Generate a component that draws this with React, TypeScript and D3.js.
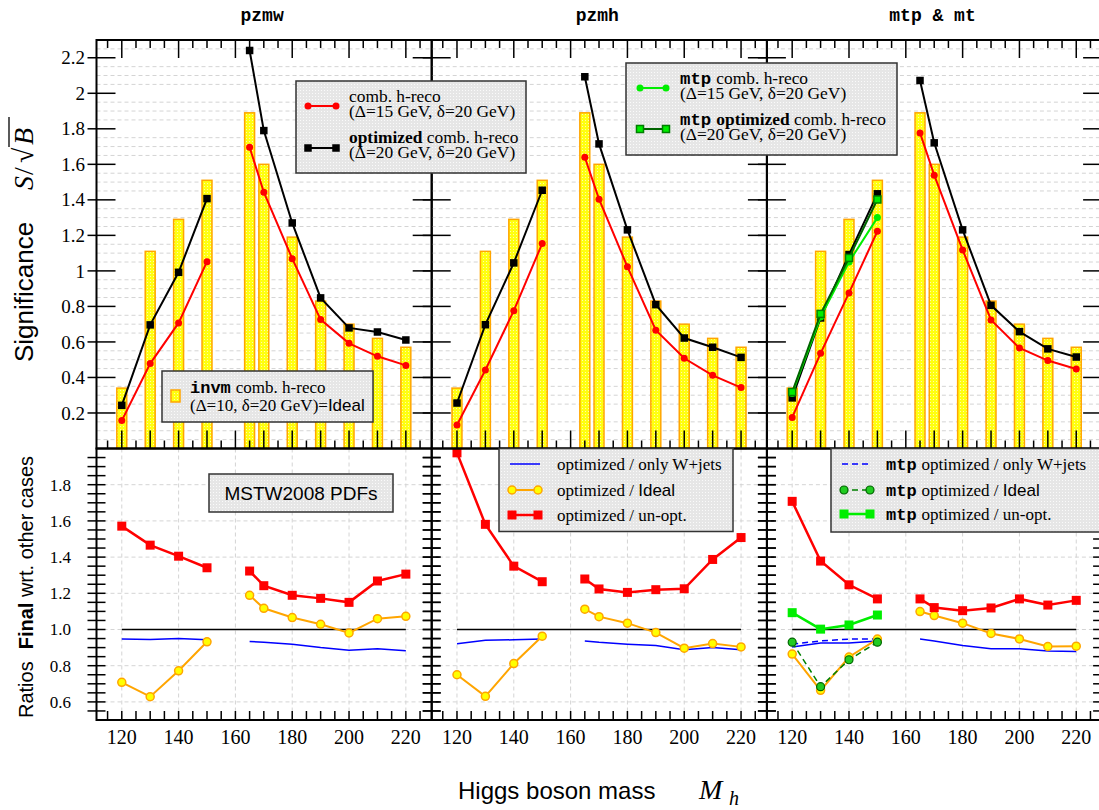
import React from 'react';
import * as d3 from 'd3';

// ---------------- DATA ----------------
const masses = [120, 130, 140, 150, 165, 170, 180, 190, 200, 210, 220];
const massesLow = [120, 130, 140, 150];

// invm comb. h-reco (Ideal) -- bars, same in each panel
const invmIdeal = [0.34, 1.11, 1.29, 1.51, 1.89, 1.6, 1.19, 0.83, 0.7, 0.62, 0.57];

// significance, top panels
const pzmwComb = [0.157, 0.478, 0.707, 1.052, 1.696, 1.443, 1.069, 0.726, 0.592, 0.519, 0.468];
const pzmwOpt = [0.243, 0.696, 0.992, 1.407, 2.241, 1.79, 1.27, 0.848, 0.679, 0.656, 0.611];
const pzmhComb = [0.132, 0.442, 0.776, 1.154, 1.64, 1.404, 1.023, 0.666, 0.508, 0.412, 0.343];
const pzmhOpt = [0.256, 0.697, 1.045, 1.454, 2.093, 1.715, 1.231, 0.81, 0.622, 0.57, 0.513];
const mtComb = [0.175, 0.536, 0.876, 1.223, 1.777, 1.539, 1.118, 0.724, 0.566, 0.495, 0.448];
const mtOpt = [0.285, 0.735, 1.092, 1.434, 2.072, 1.721, 1.231, 0.806, 0.658, 0.561, 0.515];
const mtpComb = [0.31, 0.74, 1.05, 1.3];
const mtpOpt = [0.318, 0.758, 1.073, 1.402];

// ratios, bottom panels
const pzmwRatioUnopt = [1.571, 1.466, 1.405, 1.341, 1.323, 1.242, 1.189, 1.172, 1.15, 1.268, 1.306];
const pzmwRatioIdeal = [0.708, 0.629, 0.772, 0.932, 1.189, 1.117, 1.066, 1.029, 0.981, 1.06, 1.073];
const pzmwRatioWjets = [0.947, 0.945, 0.95, 0.943, 0.934, 0.93, 0.919, 0.9, 0.886, 0.893, 0.882];
const pzmhRatioUnopt = [1.976, 1.581, 1.35, 1.264, 1.279, 1.224, 1.205, 1.22, 1.225, 1.387, 1.508];
const pzmhRatioIdeal = [0.75, 0.631, 0.812, 0.963, 1.112, 1.071, 1.035, 0.983, 0.897, 0.922, 0.904];
const pzmhRatioWjets = [0.921, 0.941, 0.943, 0.947, 0.936, 0.929, 0.919, 0.911, 0.888, 0.9, 0.888];
const mtRatioUnopt = [1.708, 1.378, 1.247, 1.169, 1.169, 1.121, 1.104, 1.119, 1.169, 1.135, 1.161];
const mtRatioIdeal = [0.864, 0.664, 0.848, 0.947, 1.099, 1.077, 1.035, 0.978, 0.948, 0.906, 0.908];
const mtRatioWjets = [0.903, 0.926, 0.926, 0.937, 0.947, 0.937, 0.911, 0.893, 0.893, 0.881, 0.878];
const mtpRatioUnopt = [1.093, 1.002, 1.025, 1.08];
const mtpRatioIdeal = [0.93, 0.684, 0.833, 0.93];
const mtpRatioWjets = [0.919, 0.937, 0.947, 0.947];

const panelTitles = ['pzmw', 'pzmh', 'mtp & mt'];
const xTickLabels = [120, 140, 160, 180, 200, 220];
const topYTicks = [0.2, 0.4, 0.6, 0.8, 1, 1.2, 1.4, 1.6, 1.8, 2, 2.2];
const botYTicks = [0.6, 0.8, 1.0, 1.2, 1.4, 1.6, 1.8];

// ---------------- LAYOUT ----------------
const W = 1099;
const H = 810;
const panelX0 = [96.5, 431.7, 766.9];
const panelW = 335.2;
const topY0 = 40;
const midY = 448.5;
const botY1 = 720;

const SERIF = '"Liberation Serif", "Times New Roman", serif';
const SANS = '"Liberation Sans", Arial, Helvetica, sans-serif';
const MONO = '"Liberation Mono", "Courier New", monospace';

const RED = '#ff0000';
const ORANGE = '#ffa500';
const YELLOW = '#ffff00';
const BLUE = '#0000ff';
const LGREEN = '#00ee00';
const DGREEN = '#008000';

type SeriesSpec = {
  xs: number[];
  ys: number[];
  color: string;
  width: number;
  dash?: string;
  marker?: 'circle' | 'square';
  size?: number;
  mFill?: string;
  mStroke?: string;
  mStrokeW?: number;
};

function Series({ s, x, y }: { s: SeriesSpec; x: d3.ScaleLinear<number, number>; y: d3.ScaleLinear<number, number> }) {
  // split where consecutive masses are far apart (150 -> 165)
  const segs: [number, number][][] = [];
  let cur: [number, number][] = [];
  s.xs.forEach((m, i) => {
    if (i > 0 && m - s.xs[i - 1] > 12) {
      segs.push(cur);
      cur = [];
    }
    cur.push([m, s.ys[i]]);
  });
  segs.push(cur);
  const line = d3.line<[number, number]>().x((d) => x(d[0])).y((d) => y(d[1]));
  const sz = s.size ?? 7;
  return (
    <g>
      {segs.map((seg, i) => (
        <path key={i} d={line(seg) || ''} fill="none" stroke={s.color} strokeWidth={s.width} strokeDasharray={s.dash} />
      ))}
      {s.marker &&
        s.xs.map((m, i) =>
          s.marker === 'circle' ? (
            <circle key={i} cx={x(m)} cy={y(s.ys[i])} r={sz / 2} fill={s.mFill ?? s.color} stroke={s.mStroke ?? 'none'} strokeWidth={s.mStrokeW ?? 1} />
          ) : (
            <rect key={i} x={x(m) - sz / 2} y={y(s.ys[i]) - sz / 2} width={sz} height={sz} fill={s.mFill ?? s.color} stroke={s.mStroke ?? 'none'} strokeWidth={s.mStrokeW ?? 1} />
          )
        )}
    </g>
  );
}

function LegendSample({ x1, x2, y, s }: { x1: number; x2: number; y: number; s: Partial<SeriesSpec> & { color: string; width: number } }) {
  const sz = s.size ?? 7;
  const mk = (cx: number) =>
    s.marker === 'circle' ? (
      <circle cx={cx} cy={y} r={sz / 2} fill={s.mFill ?? s.color} stroke={s.mStroke ?? 'none'} strokeWidth={s.mStrokeW ?? 1} />
    ) : s.marker === 'square' ? (
      <rect x={cx - sz / 2} y={y - sz / 2} width={sz} height={sz} fill={s.mFill ?? s.color} stroke={s.mStroke ?? 'none'} strokeWidth={s.mStrokeW ?? 1} />
    ) : null;
  return (
    <g>
      <line x1={x1} x2={x2} y1={y} y2={y} stroke={s.color} strokeWidth={s.width} strokeDasharray={s.dash} />
      {mk(x1 + 2)}
      {mk(x2 - 2)}
    </g>
  );
}

export default function App() {
  const xScales = panelX0.map((x0) => d3.scaleLinear().domain([111.1, 229.1]).range([x0, x0 + panelW]));
  const yTop = d3.scaleLinear().domain([0, 2.3]).range([midY, topY0]);
  const yBot = d3.scaleLinear().domain([0.5, 2.0]).range([botY1, midY]);

  const topSeries: SeriesSpec[][] = [
    [
      { xs: masses, ys: pzmwComb, color: RED, width: 2, marker: 'circle', size: 7 },
      { xs: masses, ys: pzmwOpt, color: '#000', width: 2, marker: 'square', size: 7.5 },
    ],
    [
      { xs: masses, ys: pzmhComb, color: RED, width: 2, marker: 'circle', size: 7 },
      { xs: masses, ys: pzmhOpt, color: '#000', width: 2, marker: 'square', size: 7.5 },
    ],
    [
      { xs: masses, ys: mtComb, color: RED, width: 2, marker: 'circle', size: 7 },
      { xs: masses, ys: mtOpt, color: '#000', width: 2, marker: 'square', size: 7.5 },
      { xs: massesLow, ys: mtpComb, color: LGREEN, width: 2, marker: 'circle', size: 7 },
      { xs: massesLow, ys: mtpOpt, color: '#006400', width: 2, marker: 'square', size: 7, mFill: LGREEN, mStroke: DGREEN, mStrokeW: 1.5 },
    ],
  ];

  const ideal = (xs: number[], ys: number[]): SeriesSpec => ({ xs, ys, color: ORANGE, width: 2, marker: 'circle', size: 8, mFill: YELLOW, mStroke: ORANGE, mStrokeW: 1.5 });
  const unopt = (xs: number[], ys: number[]): SeriesSpec => ({ xs, ys, color: RED, width: 2.5, marker: 'square', size: 9 });
  const wjets = (xs: number[], ys: number[]): SeriesSpec => ({ xs, ys, color: BLUE, width: 1.5 });

  const botSeries: SeriesSpec[][] = [
    [wjets(masses, pzmwRatioWjets), ideal(masses, pzmwRatioIdeal), unopt(masses, pzmwRatioUnopt)],
    [wjets(masses, pzmhRatioWjets), ideal(masses, pzmhRatioIdeal), unopt(masses, pzmhRatioUnopt)],
    [
      wjets(masses, mtRatioWjets),
      { xs: massesLow, ys: mtpRatioWjets, color: BLUE, width: 1.5, dash: '6,4' },
      ideal(masses, mtRatioIdeal),
      unopt(masses, mtRatioUnopt),
      { xs: massesLow, ys: mtpRatioIdeal, color: DGREEN, width: 1.5, dash: '6,4', marker: 'circle', size: 8, mFill: '#22cc22', mStroke: '#006400', mStrokeW: 1.2 },
      { xs: massesLow, ys: mtpRatioUnopt, color: LGREEN, width: 2.5, marker: 'square', size: 9 },
    ],
  ];

  const minorTop = d3.range(0.05, 2.3, 0.05).filter((v) => Math.abs(v / 0.2 - Math.round(v / 0.2)) > 0.01);
  const botMinorTicks = d3.range(0.55, 2.0, 0.05);
  const xMinor = d3.range(115, 230, 5);

  return (
    <svg width={W} height={H} style={{ position: 'absolute', left: 0, top: 0, background: '#fff' }} xmlns="http://www.w3.org/2000/svg">
      <defs>
        <pattern id="yel" width="3" height="3" patternUnits="userSpaceOnUse">
          <rect width="3" height="3" fill="#ffff10" />
          <rect width="1" height="1" fill="#fff9b0" />
        </pattern>
        <pattern id="gry" width="3" height="3" patternUnits="userSpaceOnUse">
          <rect width="3" height="3" fill="#e6e6e6" />
          <rect width="1" height="1" fill="#fafafa" />
        </pattern>
      </defs>
      <rect width={W} height={H} fill="#fff" />

      {panelX0.map((x0, p) => {
        const x = xScales[p];
        const x1 = x0 + panelW;
        return (
          <g key={p}>
            {/* grid top */}
            {minorTop.map((v, i) => (
              <line key={'gt' + i} x1={x0} x2={x1} y1={yTop(v)} y2={yTop(v)} stroke="#d4d4d4" strokeWidth={1} strokeDasharray="4,3" />
            ))}
            {/* grid bottom */}
            {botYTicks.map((v, i) => (
              <line key={'gb' + i} x1={x0} x2={x1} y1={yBot(v)} y2={yBot(v)} stroke="#d4d4d4" strokeWidth={1} strokeDasharray="4,3" />
            ))}
            {xTickLabels.map((m, i) => (
              <line key={'gv' + i} x1={x(m)} x2={x(m)} y1={midY} y2={botY1} stroke="#d4d4d4" strokeWidth={1} strokeDasharray="4,3" />
            ))}
            {/* bars */}
            {masses.map((m, i) => (
              <rect key={'b' + i} x={x(m - 1.75)} y={yTop(invmIdeal[i])} width={x(m + 1.75) - x(m - 1.75)} height={midY - yTop(invmIdeal[i])} fill="url(#yel)" stroke={ORANGE} strokeWidth={1.5} />
            ))}
            {/* ticks, top panel */}
            {xMinor.map((m, i) => (
              <line key={'tt' + i} x1={x(m)} x2={x(m)} y1={topY0} y2={topY0 + (m % 20 === 0 ? 18 : 8)} stroke="#000" strokeWidth={1.5} />
            ))}
            {xMinor.map((m, i) => (
              <line key={'tb' + i} x1={x(m)} x2={x(m)} y1={midY} y2={midY - (m % 10 === 0 ? 18 : 8)} stroke="#000" strokeWidth={1.5} />
            ))}
            {topYTicks.map((v, i) => (
              <g key={'ty' + i}>
                <line x1={x0 - 9} x2={x0 + 19} y1={yTop(v)} y2={yTop(v)} stroke="#000" strokeWidth={1.5} />
                <line x1={x1 - 19} x2={x1} y1={yTop(v)} y2={yTop(v)} stroke="#000" strokeWidth={1.5} />
              </g>
            ))}
            {/* ticks bottom panel */}
            {xMinor.map((m, i) => (
              <line key={'bb' + i} x1={x(m)} x2={x(m)} y1={botY1} y2={botY1 - 9} stroke="#000" strokeWidth={1.5} />
            ))}
            {botMinorTicks.map((v, i) => (
              <g key={'by' + i}>
                <line x1={x0 - 9} x2={x0 + 9} y1={yBot(v)} y2={yBot(v)} stroke="#000" strokeWidth={1.5} />
                <line x1={x1 - 9} x2={x1 + 9} y1={yBot(v)} y2={yBot(v)} stroke="#000" strokeWidth={1.5} />
              </g>
            ))}
            {/* reference line */}
            <line x1={x(120)} x2={x(220)} y1={yBot(1)} y2={yBot(1)} stroke="#000" strokeWidth={1.5} />
            {/* series */}
            {topSeries[p].map((s, i) => (
              <Series key={'ts' + i} s={s} x={x} y={yTop} />
            ))}
            {botSeries[p].map((s, i) => (
              <Series key={'bs' + i} s={s} x={x} y={yBot} />
            ))}
            {/* frames */}
            <rect x={x0} y={topY0} width={panelW} height={midY - topY0} fill="none" stroke="#000" strokeWidth={2} />
            <rect x={x0} y={midY} width={panelW} height={botY1 - midY} fill="none" stroke="#000" strokeWidth={2} />
            {/* x tick labels */}
            {xTickLabels.map((m, i) => (
              <text key={'xl' + i} x={x(m)} y={744} textAnchor="middle" fontFamily={SERIF} fontSize={20}>
                {m}
              </text>
            ))}
            {/* title */}
            <text x={x0 + panelW / 2 - 2} y={21} textAnchor="middle" fontFamily={MONO} fontWeight="bold" fontSize={18}>
              {panelTitles[p]}
            </text>
          </g>
        );
      })}

      {/* y tick labels */}
      {topYTicks.map((v, i) => (
        <text key={'yl' + i} x={85} y={yTop(v)} dy="0.35em" textAnchor="end" fontFamily={SERIF} fontSize={19}>
          {d3.format('~g')(v)}
        </text>
      ))}
      {botYTicks.map((v, i) => (
        <text key={'yb' + i} x={71} y={yBot(v)} dy="0.35em" textAnchor="end" fontFamily={SERIF} fontSize={17}>
          {d3.format('.1f')(v)}
        </text>
      ))}

      {/* y axis labels */}
      <g transform="translate(33,0) rotate(-90)">
        <text x={-362} y={0} fontFamily={SANS} fontSize={26}>
          Significance
        </text>
        <text x={-190} y={0} fontFamily={SERIF} fontStyle="italic" fontSize={28}>
          S
        </text>
        <text x={-175} y={0} fontFamily={SERIF} fontSize={28}>
          /
        </text>
        <text x={-163} y={0} fontFamily={SERIF} fontSize={28}>
          √
        </text>
        <line x1={-147} x2={-117} y1={-24} y2={-24} stroke="#000" strokeWidth={1.3} />
        <text x={-145} y={0} fontFamily={SERIF} fontStyle="italic" fontSize={28}>
          B
        </text>
      </g>
      <g transform="translate(33,718) rotate(-90)">
        <text x={0} y={0} fontFamily={SANS} fontSize={20}>
          Ratios
          <tspan dx={12} fontWeight="bold">Final</tspan>
          <tspan> wrt. other cases</tspan>
        </text>
      </g>

      {/* x axis label */}
      <text x={458} y={799} fontFamily={SANS} fontSize={24}>
        Higgs boson mass
      </text>
      <text x={699} y={799} fontFamily={SERIF} fontStyle="italic" fontSize={28}>
        M
      </text>
      <text x={729} y={805} fontFamily={SERIF} fontStyle="italic" fontSize={20}>
        h
      </text>

      {/* Legend 1: top panel 1 */}
      <g>
        <rect x={296} y={81} width={230} height={92} fill="url(#gry)" stroke="#333" strokeWidth={1.5} />
        <LegendSample x1={306} x2={338} y={106} s={{ color: RED, width: 2, marker: 'circle', size: 7 }} />
        <LegendSample x1={306} x2={338} y={148} s={{ color: '#000', width: 2, marker: 'square', size: 7.5 }} />
        <g fontFamily={SERIF} fontSize={17.4}>
          <text x={349} y={102}>comb. h-reco</text>
          <text x={349} y={117}>(Δ=15 GeV, δ=20 GeV)</text>
          <text x={349} y={143}>
            <tspan fontWeight="bold">optimized</tspan>
            <tspan> comb. h-reco</tspan>
          </text>
          <text x={349} y={158}>(Δ=20 GeV, δ=20 GeV)</text>
        </g>
      </g>

      {/* Legend 2: top panel 2 */}
      <g>
        <rect x={626} y={63} width={271} height={92} fill="url(#gry)" stroke="#333" strokeWidth={1.5} />
        <LegendSample x1={638} x2={668} y={88} s={{ color: LGREEN, width: 2, marker: 'circle', size: 7 }} />
        <LegendSample x1={638} x2={668} y={129} s={{ color: '#006400', width: 2, marker: 'square', size: 7, mFill: LGREEN, mStroke: DGREEN, mStrokeW: 1.5 }} />
        <g fontFamily={SERIF} fontSize={17.4}>
          <text x={680} y={84}>
            <tspan fontFamily={MONO} fontWeight="bold">mtp</tspan>
            <tspan dx={5}>comb. h-reco</tspan>
          </text>
          <text x={680} y={99}>(Δ=15 GeV, δ=20 GeV)</text>
          <text x={680} y={125}>
            <tspan fontFamily={MONO} fontWeight="bold">mtp</tspan>
            <tspan dx={5} fontWeight="bold">optimized</tspan>
            <tspan> comb. h-reco</tspan>
          </text>
          <text x={680} y={140}>(Δ=20 GeV, δ=20 GeV)</text>
        </g>
      </g>

      {/* Legend 3: invm ideal */}
      <g>
        <rect x={162} y={371} width={211} height={51} fill="url(#gry)" stroke="#333" strokeWidth={1.5} />
        <rect x={171} y={390} width={9} height={12} fill="url(#yel)" stroke={ORANGE} strokeWidth={1.5} />
        <g fontFamily={SERIF} fontSize={17}>
          <text x={190} y={393}>
            <tspan fontFamily={MONO} fontWeight="bold">invm</tspan>
            <tspan dx={5}>comb. h-reco</tspan>
          </text>
          <text x={190} y={411}>
            (Δ=10, δ=20 GeV)=<tspan fontFamily={SANS}>Ideal</tspan>
          </text>
        </g>
      </g>

      {/* MSTW box */}
      <g>
        <rect x={209} y={474} width={184} height={38} fill="url(#gry)" stroke="#333" strokeWidth={1.5} />
        <text x={301} y={500} textAnchor="middle" fontFamily={SANS} fontSize={19}>
          MSTW2008 PDFs
        </text>
      </g>

      {/* Legend bottom panel 2 */}
      <g>
        <rect x={499} y={448.5} width={234} height={83} fill="url(#gry)" stroke="#333" strokeWidth={1.5} />
        <LegendSample x1={510} x2={540} y={464} s={{ color: BLUE, width: 1.5 }} />
        <LegendSample x1={510} x2={540} y={490} s={{ color: ORANGE, width: 2, marker: 'circle', size: 8, mFill: YELLOW, mStroke: ORANGE, mStrokeW: 1.5 }} />
        <LegendSample x1={510} x2={540} y={515} s={{ color: RED, width: 2.5, marker: 'square', size: 9 }} />
        <g fontFamily={SERIF} fontSize={17}>
          <text x={557} y={470}>optimized / only W+jets</text>
          <text x={557} y={496}>
            optimized / <tspan fontFamily={SANS}>Ideal</tspan>
          </text>
          <text x={557} y={521}>optimized / un-opt.</text>
        </g>
      </g>

      {/* Legend bottom panel 3 */}
      <g>
        <rect x={831} y={448.5} width={275} height={83.5} fill="url(#gry)" stroke="#333" strokeWidth={1.5} />
        <LegendSample x1={842} x2={872} y={464} s={{ color: BLUE, width: 1.5, dash: '6,4' }} />
        <LegendSample x1={842} x2={872} y={490} s={{ color: DGREEN, width: 1.5, dash: '6,4', marker: 'circle', size: 8, mFill: '#22cc22', mStroke: '#006400', mStrokeW: 1.2 }} />
        <LegendSample x1={842} x2={872} y={514} s={{ color: LGREEN, width: 2.5, marker: 'square', size: 9 }} />
        <g fontFamily={SERIF} fontSize={17}>
          <text x={886} y={470}>
            <tspan fontFamily={MONO} fontWeight="bold">mtp</tspan>
            <tspan dx={5}>optimized / only W+jets</tspan>
          </text>
          <text x={886} y={496}>
            <tspan fontFamily={MONO} fontWeight="bold">mtp</tspan>
            <tspan dx={5}>optimized / </tspan>
            <tspan fontFamily={SANS}>Ideal</tspan>
          </text>
          <text x={886} y={520}>
            <tspan fontFamily={MONO} fontWeight="bold">mtp</tspan>
            <tspan dx={5}>optimized / un-opt.</tspan>
          </text>
        </g>
      </g>
    </svg>
  );
}
